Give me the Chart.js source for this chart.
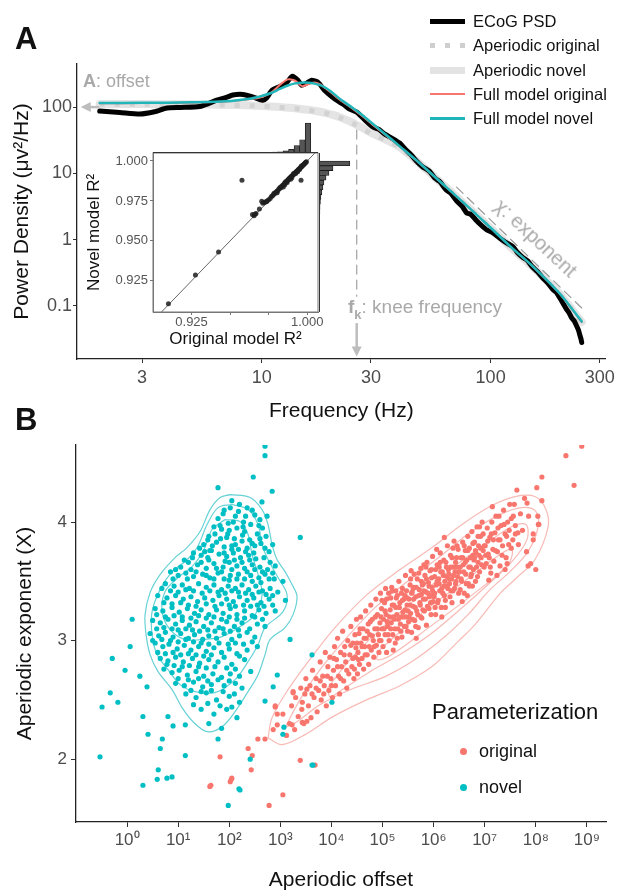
<!DOCTYPE html>
<html>
<head>
<meta charset="utf-8">
<script src="https://cdn.jsdelivr.net/npm/chart.js@4.4.1/dist/chart.umd.min.js"></script>
<style>
  body { margin: 0; background: #fff; }
  #fig { position: relative; width: 619px; height: 891px; overflow: hidden; font-family: 'Liberation Sans', Arial, sans-serif; }
  #fig canvas { position: absolute; }
  .txt { position: absolute; line-height: 1; white-space: nowrap; color: #111; }
  .gray { color: #a9a9a9; }
  .sw { position: absolute; left: 430px; width: 35px; }
  .dot { position: absolute; width: 7px; height: 7px; border-radius: 50%; }
</style>
</head>
<body>
<div id="fig">
  <canvas id="chartA" width="619" height="430" style="left:0;top:0"></canvas>
  <canvas id="inset" width="280" height="240" style="left:84px;top:120px"></canvas>
  <canvas id="histTop" width="165" height="35" style="left:153px;top:118px"></canvas>
  <canvas id="histRight" width="38" height="159" style="left:319px;top:153px"></canvas>
  <canvas id="chartB" width="619" height="470" style="left:0;top:430px"></canvas>

  <div class="txt" style="left:15px;top:23px;font-size:31px;font-weight:bold">A</div>
  <div class="txt" style="left:15px;top:404px;font-size:31px;font-weight:bold">B</div>

  <div class="txt gray" style="left:83px;top:72px;font-size:18px"><b>A</b>: offset</div>
  <div class="txt gray" style="left:348px;top:297px;font-size:19px"><b>f<span style="font-size:13px;position:relative;top:6px">k</span></b>: knee frequency</div>
  <div class="txt gray" style="left:536px;top:238px;font-size:20px;transform:translate(-50%,-50%) rotate(43deg)">χ: exponent</div>

  <!-- legend, panel A -->
  <div class="sw" style="top:18.5px;height:5px;background:#000"></div>
  <div class="sw" style="top:42.5px;height:5px;background:repeating-linear-gradient(to right,#cfcfcf 0 5px,transparent 5px 15px)"></div>
  <div class="sw" style="top:66.5px;height:7px;background:#e3e3e3"></div>
  <div class="sw" style="top:93px;height:2px;background:#F8766D"></div>
  <div class="sw" style="top:117px;height:2.5px;background:#1fb5b9"></div>
  <div class="txt" style="left:473px;top:13px;font-size:16.5px">ECoG PSD</div>
  <div class="txt" style="left:473px;top:37px;font-size:16.5px">Aperiodic original</div>
  <div class="txt" style="left:473px;top:62px;font-size:16.5px">Aperiodic novel</div>
  <div class="txt" style="left:473px;top:86px;font-size:16.5px">Full model original</div>
  <div class="txt" style="left:473px;top:110px;font-size:16.5px">Full model novel</div>

  <!-- legend, panel B -->
  <div class="txt" style="left:432px;top:701px;font-size:22px">Parameterization</div>
  <div class="dot" style="left:459.5px;top:748px;background:#F8766D"></div>
  <div class="txt" style="left:479px;top:742px;font-size:18px">original</div>
  <div class="dot" style="left:459.5px;top:783.5px;background:#00BFC4"></div>
  <div class="txt" style="left:479px;top:778px;font-size:18px">novel</div>
</div>

<script>
// ---- panel A: spectrum ----
const freqTicks = [3, 10, 30, 100, 300];
const powerTicks = [0.1, 1, 10, 100];

const psdFreq = [1.96, 2.4, 2.93, 3.4, 3.85, 4.4, 5.35, 6.36, 7.0, 7.47, 8.27, 9.13, 10.1, 10.5, 11.1, 12.0, 12.9, 13.6, 14.4, 14.9,
  15.7, 16.5, 17.6, 18.8, 20.4, 21.9, 23, 24.2, 26, 28.2, 30.6, 32.5, 34.5, 37, 40, 42.5, 45, 47.5, 50.5, 54,
  57, 60, 64, 67, 71, 75, 78.5, 82, 86, 91, 96, 102, 109, 117, 125, 131, 138, 145, 152, 160,
  168, 177, 187, 193, 200, 207, 215, 220, 226, 232, 238, 242, 245, 248, 250];
const psdPower = [87, 83, 78.5, 85, 97, 99, 102, 127, 140, 152, 155, 143, 127, 137, 180, 205, 238, 293, 255, 214,
  230, 255, 238, 180, 141, 119, 107, 93, 84, 64, 50, 46, 39, 34, 28.7, 23, 18.9, 15.2, 12.5, 10.8,
  8.5, 7.5, 5.6, 5.0, 3.85, 3.2, 2.54, 2.4, 2.0, 1.65, 1.41, 1.27, 1.07, 0.9, 0.785, 0.64, 0.54, 0.48, 0.39, 0.33,
  0.27, 0.225, 0.177, 0.162, 0.134, 0.11, 0.088, 0.079, 0.066, 0.059, 0.049, 0.043, 0.037, 0.032, 0.028];

const modelFreq = [1.96, 3, 5, 7, 9, 10, 11, 12, 13, 14, 15, 16, 17, 18, 19, 20, 22, 25, 28, 30, 35, 40, 50, 64, 80, 100, 125, 150, 200, 250];
const novelFull = [115, 116, 118, 122, 135, 147, 163, 188, 212, 228, 234, 233, 226, 214, 196, 174, 132, 97, 72, 59, 38, 25.8, 13.4, 6.2, 3.1, 1.51, 0.73, 0.42, 0.155, 0.058];
const originalFull = [114, 115, 117, 121, 132, 142, 165, 215, 262, 250, 207, 222, 236, 220, 192, 168, 128, 94, 70, 57, 37, 25.5, 13.3, 6.15, 3.08, 1.5, 0.725, 0.418, 0.154, 0.057];
const aperiodicNovel = [111, 111, 110, 108, 106, 104, 102, 100, 98, 96, 93, 91, 88, 85, 82, 78, 70, 58, 47, 41, 32, 25, 13.2, 6.1, 3.05, 1.49, 0.72, 0.41, 0.152, 0.057];
const aperiodicOriginal = [110, 110, 109, 107, 105, 103, 101, 99, 97, 95, 92, 90, 87, 84, 81, 77, 69, 57, 46, 40, 31.5, 24.7, 13.1, 6.05, 3.03, 1.48, 0.715, 0.408, 0.151, 0.0565];

const exponentGuideFreq = [71, 250];
const exponentGuidePower = [6.2, 0.093];
const kneeFreq = 26;
const kneeGuidePower = [45, 0.14];
const kneeArrowPower = [0.055, 0.0172];
const offsetArrowFreq = [1.95, 1.62];
const offsetPower = 100;

// ---- inset: R^2 comparison ----
const r2Ticks = [0.925, 0.95, 0.975, 1.0];
const r2XLabels = ['0.925', '', '', '1.000'];
const r2Points = [[0.910, 0.9106], [0.9275, 0.9287], [0.9425, 0.9431], [0.9577, 0.988], [0.996, 0.988],
  [0.9645, 0.9665], [0.9655, 0.9658], [0.9668, 0.9672], [0.9662, 0.9667], [0.969, 0.970], [0.9705, 0.9748],
  [0.9712, 0.9735], [0.972, 0.974], [0.9728, 0.9744], [0.9735, 0.9745],
  [0.974, 0.975], [0.975, 0.9758], [0.976, 0.9765], [0.9768, 0.9778], [0.9775, 0.9782], [0.9782, 0.979],
  [0.979, 0.9796], [0.9797, 0.9805], [0.9803, 0.9811], [0.981, 0.9815], [0.9816, 0.9824], [0.9822, 0.983],
  [0.9829, 0.9833], [0.9835, 0.9842], [0.9841, 0.9848], [0.9847, 0.9852], [0.9852, 0.986], [0.9858, 0.9864],
  [0.9863, 0.9869], [0.9868, 0.9875], [0.9873, 0.9879], [0.9878, 0.9883], [0.9883, 0.9889], [0.9887, 0.9893],
  [0.9891, 0.9897], [0.9895, 0.9901], [0.9899, 0.9904], [0.9903, 0.9908], [0.9907, 0.9912], [0.9911, 0.9916],
  [0.9915, 0.9919], [0.9919, 0.9923], [0.9923, 0.9927], [0.9927, 0.9931], [0.9931, 0.9934], [0.9935, 0.9938],
  [0.9939, 0.9942], [0.9943, 0.9946], [0.9947, 0.9949], [0.9951, 0.9953], [0.9955, 0.9957], [0.9959, 0.9961],
  [0.9963, 0.9964], [0.9967, 0.9968], [0.9971, 0.9972], [0.9975, 0.9976], [0.9979, 0.998], [0.9983, 0.9984],
  [0.9987, 0.9988], [0.9991, 0.9992], [0.9995, 0.9996], [0.9845, 0.9838], [0.987, 0.9865], [0.99, 0.9895],
  [0.9925, 0.9921], [0.995, 0.9946], [0.988, 0.9887], [0.986, 0.987], [0.9785, 0.9798], [0.9805, 0.9802],
  [0.9825, 0.9836], [0.9855, 0.9851], [0.9893, 0.9886], [0.9912, 0.9921], [0.9938, 0.9933], [0.9962, 0.9968]];

const topHistCenters = [1.0005, 0.9969, 0.9933, 0.9897, 0.9861, 0.9825, 0.9789, 0.9753, 0.9717, 0.9681, 0.9645, 0.9609,
  0.9573, 0.9537, 0.9501, 0.9465, 0.9429, 0.9393, 0.9357, 0.9321, 0.9285, 0.9249, 0.9213, 0.9177, 0.9141, 0.9105];
const topHistCounts = [282, 125, 70, 35, 20, 12, 8, 6, 5, 4, 3, 2, 2, 1, 1, 1, 1, 1, 0, 1, 1, 0, 0, 0, 0, 1];
const rightHistCenters = [0.9985, 0.9955, 0.9925, 0.9895, 0.9865, 0.9835, 0.9805, 0.9775, 0.9745, 0.9715, 0.9685, 0.9655,
  0.9625, 0.9595, 0.9565, 0.9535, 0.9505, 0.9475, 0.9445, 0.9415, 0.9385, 0.9355, 0.9325, 0.9295, 0.9265, 0.9235];
const rightHistCounts = [300, 136, 97, 68, 48, 38, 28, 19, 14, 10, 9, 7, 5, 3, 2, 2, 1, 1, 1, 0, 1, 0, 1, 0, 0, 1];

// ---- panel B: [log10 offset, exponent] ----
const offsetTickValues = [1, 10, 100, 1e3, 1e4, 1e5, 1e6, 1e7, 1e8, 1e9];
const offsetTickLabels = ['10⁰', '10¹', '10²', '10³', '10⁴', '10⁵', '10⁶', '10⁷', '10⁸', '10⁹'];
const exponentTicks = [2, 3, 4];

const novelPoints = [
  [2.05,4.18],[2.2,4.15],[2.35,4.12],[1.9,4.1],[2.5,4.06],[2.12,4.05],[1.78,4.03],[2.6,4.02],[2.28,4.0],[1.98,3.99],[2.42,3.98],[2.65,3.95],
  [1.7,3.96],[1.85,3.94],[2.0,3.93],[2.15,3.95],[2.3,3.92],[2.55,3.9],[2.72,3.88],[1.6,3.88],[1.95,3.87],[2.1,3.86],[2.4,3.85],[2.25,3.84],
  [1.75,3.83],[2.62,3.82],[1.5,3.81],[2.05,3.8],[2.85,3.81],[1.9,3.79],[2.35,3.78],[2.5,3.8],[2.18,3.77],[1.65,3.76],
  [1.3,3.74],[1.45,3.72],[1.58,3.7],[1.8,3.73],[1.95,3.71],[2.08,3.74],[2.22,3.7],[2.38,3.72],[2.52,3.69],[2.68,3.7],[2.8,3.66],[1.2,3.66],
  [1.38,3.64],[1.7,3.65],[1.88,3.62],[2.0,3.66],[2.15,3.63],[2.3,3.61],[2.45,3.64],[2.6,3.62],[2.9,3.63],[1.05,3.62],[1.55,3.61],[2.75,3.6],
  [1.25,3.6],[2.05,3.6],[2.4,3.68],[1.62,3.76],
  [0.85,3.58],[1.0,3.55],[1.15,3.57],[1.3,3.54],[1.48,3.56],[1.62,3.53],[1.78,3.57],[1.9,3.52],[2.02,3.55],[2.18,3.56],[2.3,3.52],[2.42,3.55],
  [2.58,3.53],[2.7,3.56],[2.88,3.52],[3.05,3.5],[0.75,3.48],[0.92,3.46],[1.08,3.47],[1.22,3.44],[1.4,3.48],[1.55,3.45],[1.7,3.47],[1.85,3.43],
  [1.98,3.46],[2.12,3.44],[2.25,3.47],[2.38,3.43],[2.52,3.46],[2.65,3.42],[2.8,3.44],[2.95,3.41],
  [0.6,3.38],[0.78,3.36],[0.95,3.38],[1.1,3.35],[1.25,3.37],[1.38,3.33],[1.52,3.36],[1.68,3.34],[1.8,3.38],[1.95,3.35],[2.08,3.33],[2.2,3.37],
  [2.35,3.34],[2.48,3.36],[2.62,3.32],[2.78,3.35],[3.1,3.34],[0.55,3.27],[0.7,3.25],[0.88,3.28],[1.02,3.24],[1.18,3.27],[1.32,3.23],[1.45,3.26],
  [1.6,3.22],[1.75,3.26],[1.88,3.23],[2.02,3.27],[2.15,3.22],[2.3,3.25],[2.45,3.21],[2.58,3.26],[2.72,3.23],[2.9,3.25],
  [0.5,3.17],[0.65,3.15],[0.8,3.18],[0.95,3.14],[1.08,3.17],[1.22,3.13],[1.35,3.16],[1.5,3.12],[1.65,3.15],[1.8,3.11],[1.95,3.16],[2.1,3.12],
  [2.25,3.15],[2.4,3.1],[2.55,3.14],[2.7,3.12],[0.45,3.06],[0.62,3.04],[0.75,3.07],[0.9,3.03],[1.05,3.06],[1.2,3.02],[1.32,3.05],[1.48,3.01],
  [1.6,3.04],[1.75,3.02],[1.9,3.06],[2.05,3.01],[2.2,3.04],[2.5,3.03],
  [0.55,2.98],[0.7,2.95],[0.82,2.97],[0.98,2.93],[1.12,2.96],[1.25,2.92],[1.4,2.95],[1.55,2.91],[1.7,2.94],[1.85,2.9],[2.0,2.93],[2.15,2.89],
  [2.35,2.92],[2.55,2.95],[0.65,2.85],[0.8,2.83],[0.95,2.86],[1.1,2.82],[1.28,2.85],[1.42,2.81],[1.6,2.84],[1.78,2.82],[2.05,2.8],[2.3,2.84],
  [0.72,2.76],[0.88,2.73],[1.02,2.75],[1.18,2.71],[1.35,2.74],[1.5,2.7],[1.68,2.72],[1.85,2.69],[2.02,2.72],[2.2,2.7],[2.42,2.74],[0.95,2.64],
  [1.12,2.62],[1.3,2.65],[1.48,2.61],[1.65,2.63],[1.9,2.62],[2.25,2.6],
  [1.15,2.55],[1.35,2.52],[1.55,2.56],[1.75,2.5],[2.0,2.53],[2.2,2.48],[1.45,2.42],[1.7,2.38],[1.95,2.42],[2.15,2.35],[1.6,2.3],[1.85,2.26],
  // second pass over the dense core
  [1.88,4.07],[2.02,4.12],[2.18,4.09],[2.32,4.05],[2.45,4.1],[2.58,3.97],[1.82,3.97],[2.27,3.96],[2.08,4.0],
  [1.58,3.85],[1.72,3.9],[1.83,3.86],[1.97,3.9],[2.12,3.81],[2.26,3.89],[2.45,3.82],[2.6,3.86],[2.7,3.78],[1.52,3.75],[1.67,3.8],[1.9,3.74],
  [2.05,3.77],[2.32,3.75],[2.48,3.74],[2.78,3.75],[1.42,3.78],
  [1.12,3.68],[1.28,3.7],[1.45,3.66],[1.6,3.68],[1.75,3.61],[1.92,3.67],[2.1,3.68],[2.25,3.66],[2.35,3.58],[2.5,3.6],[2.65,3.58],[2.85,3.57],
  [0.95,3.6],[1.18,3.52],[1.35,3.58],[1.55,3.55],[1.7,3.52],[1.85,3.58],[2.0,3.51],[2.15,3.52],[2.45,3.5],[2.62,3.49],[2.78,3.52],[0.9,3.52],
  [0.68,3.44],[0.85,3.42],[1.0,3.41],[1.15,3.43],[1.3,3.42],[1.47,3.4],[1.62,3.42],[1.78,3.41],[1.92,3.4],[2.05,3.42],[2.18,3.41],[2.32,3.4],
  [2.45,3.39],[2.58,3.41],[2.72,3.39],[2.85,3.38],[0.72,3.32],[0.88,3.31],[1.05,3.32],[1.2,3.3],[1.35,3.29],[1.55,3.31],[1.72,3.29],[1.85,3.31],
  [2.0,3.3],[2.12,3.29],[2.28,3.3],[2.42,3.29],[2.55,3.3],[2.68,3.29],[2.85,3.3],
  [0.58,3.22],[0.75,3.2],[0.92,3.21],[1.08,3.2],[1.25,3.19],[1.4,3.21],[1.55,3.19],[1.7,3.2],[1.85,3.18],[2.0,3.2],[2.15,3.18],[2.3,3.19],
  [2.5,3.2],[2.65,3.18],[0.58,3.1],[0.72,3.11],[0.88,3.1],[1.0,3.09],[1.15,3.1],[1.28,3.09],[1.42,3.08],[1.58,3.09],[1.72,3.08],[1.88,3.1],
  [2.02,3.08],[2.18,3.09],[2.35,3.07],
  [0.5,3.0],[0.68,3.01],[0.85,3.0],[1.0,2.99],[1.15,3.01],[1.3,2.99],[1.45,2.98],[1.6,2.97],[1.8,2.98],[1.98,2.97],[2.12,2.98],[2.28,2.97],
  [2.45,2.99],[0.6,2.9],[0.75,2.89],[0.9,2.9],[1.05,2.88],[1.2,2.89],[1.35,2.88],[1.5,2.87],[1.65,2.88],[1.9,2.86],[2.2,2.87],
  [0.78,2.8],[0.92,2.79],[1.08,2.78],[1.22,2.79],[1.4,2.78],[1.55,2.77],[1.72,2.78],[1.95,2.77],[2.12,2.76],[1.0,2.68],[1.2,2.67],[1.4,2.68],
  [1.58,2.66],[1.78,2.67],[2.0,2.66],[2.12,2.64],
  [1.25,2.58],[1.45,2.57],[1.65,2.58],[1.88,2.57],[2.1,2.55],[1.3,2.46],[1.58,2.47],[1.82,2.45],[2.05,2.44],
  // scattered
  [-0.53,2.02],[-0.49,2.44],[-0.33,2.56],[-0.29,2.85],[-0.04,2.75],[0.25,2.7],[0.31,2.36],[0.31,1.78],[0.39,2.61],[0.59,1.83],[0.61,1.91],
  [0.65,2.09],[0.69,2.17],[0.78,1.84],[0.8,2.36],[0.88,1.85],[0.9,2.28],[1.14,2.03],[1.14,2.29],[1.78,2.17],[1.98,1.61],[2.19,1.75],
  [2.41,2.0],[2.7,2.49],[3.19,3.01],[3.62,1.95],[3.05,2.21],[3.07,2.27],[3.62,2.88],[2.86,2.61],[2.94,2.71],[4.01,2.48],[2.7,4.64],
  [2.7,4.56],[2.47,4.38],[1.78,4.29],[2.84,4.26],[2.64,4.17],[3.39,3.87],[0.1,3.18],[2.74,4.05],[0.41,2.21],[0.06,2.95],[-0.18,2.48],
  [2.21,1.74],[3.64,1.95]];

const originalPoints = [
  [3.05,2.38],[3.12,2.2],[3.18,2.3],[3.22,2.45],[3.28,2.25],[3.3,2.52],[3.35,2.36],[3.4,2.6],[3.42,2.42],[3.46,2.3],[3.48,2.55],[3.5,2.68],
  [3.55,2.45],[3.58,2.62],[3.6,2.35],[3.63,2.75],[3.66,2.52],[3.7,2.68],[3.72,2.4],[3.75,2.58],[3.78,2.82],[3.8,2.5],[3.83,2.7],[3.86,2.62],
  [3.88,2.9],[3.9,2.45],[3.93,2.78],[3.95,2.58],[3.97,2.86],[3.99,2.68],
  [4.02,2.52],[4.04,2.75],[4.06,2.95],[4.08,2.62],[4.1,2.84],[4.12,3.02],[4.14,2.7],[4.16,2.55],[4.18,2.9],[4.2,2.78],[4.22,3.08],[4.24,2.66],
  [4.26,2.95],[4.28,2.82],[4.3,2.6],[4.32,3.0],[4.34,2.72],[4.36,2.88],[4.38,3.12],[4.4,2.78],[4.42,2.98],[4.44,2.68],[4.46,3.05],[4.47,2.86],
  [4.48,2.94],[4.49,3.18],
  [4.51,2.72],[4.52,2.9],[4.54,3.06],[4.55,2.8],[4.57,3.2],[4.58,2.98],[4.6,2.85],[4.62,3.1],[4.63,2.76],[4.65,2.95],[4.67,3.25],[4.68,3.02],
  [4.7,2.88],[4.72,3.14],[4.73,2.8],[4.75,3.05],[4.77,3.3],[4.78,2.92],[4.8,3.18],[4.82,3.0],[4.83,2.86],[4.85,3.1],[4.87,3.35],[4.88,2.96],
  [4.9,3.22],[4.92,3.05],[4.93,2.9],[4.95,3.15],[4.96,3.4],[4.97,3.0],[4.98,3.27],[4.99,3.1],
  [5.01,2.95],[5.02,3.18],[5.04,3.32],[5.05,3.05],[5.07,3.22],[5.08,2.9],[5.1,3.12],[5.12,3.4],[5.13,3.0],[5.15,3.26],[5.17,3.15],[5.18,3.45],
  [5.2,3.05],[5.22,3.3],[5.23,3.18],[5.25,2.98],[5.27,3.36],[5.28,3.22],[5.3,3.1],[5.32,3.5],[5.33,3.28],[5.35,3.14],[5.37,3.4],[5.38,3.03],
  [5.4,3.24],[5.42,3.35],[5.43,3.12],[5.45,3.55],[5.46,3.2],[5.47,3.42],[5.48,3.3],[5.49,3.08],[5.44,3.38],[5.36,3.2],[5.26,3.42],[5.16,3.36],
  [5.06,3.44],[5.21,2.92],
  [5.51,3.16],[5.52,3.35],[5.54,3.47],[5.55,3.23],[5.57,3.07],[5.58,3.41],[5.6,3.29],[5.62,3.56],[5.63,3.17],[5.65,3.37],[5.67,3.25],[5.68,3.52],
  [5.7,3.11],[5.72,3.43],[5.73,3.32],[5.75,3.61],[5.77,3.19],[5.78,3.47],[5.8,3.35],[5.82,3.25],[5.83,3.55],[5.85,3.41],[5.87,3.66],[5.88,3.29],
  [5.9,3.49],[5.92,3.37],[5.93,3.59],[5.95,3.22],[5.97,3.45],[5.98,3.71],[5.99,3.33],[5.56,3.59],[5.66,3.02],[5.76,3.39],[5.86,3.13],[5.96,3.53],
  [5.61,3.45],[5.71,3.57],[5.81,3.64],[5.91,3.27],
  [6.01,3.37],[6.02,3.54],[6.04,3.22],[6.05,3.47],[6.07,3.64],[6.08,3.32],[6.1,3.52],[6.12,3.42],[6.13,3.74],[6.15,3.28],[6.17,3.58],[6.18,3.4],
  [6.2,3.68],[6.22,3.5],[6.23,3.34],[6.25,3.62],[6.27,3.8],[6.28,3.44],[6.3,3.56],[6.32,3.37],[6.33,3.72],[6.35,3.52],[6.37,3.62],[6.38,3.42],
  [6.4,3.84],[6.42,3.58],[6.43,3.48],[6.45,3.7],[6.47,3.54],[6.48,3.77],[6.49,3.4],[6.06,3.77],[6.16,3.2],[6.26,3.54],[6.36,3.32],[6.46,3.62],
  [6.11,3.62],[6.21,3.87],[6.31,3.48],[6.41,3.44],
  [6.51,3.58],[6.52,3.43],[6.54,3.7],[6.55,3.5],[6.57,3.83],[6.58,3.64],[6.6,3.4],[6.62,3.76],[6.63,3.56],[6.65,3.68],[6.67,3.88],[6.68,3.48],
  [6.7,3.78],[6.72,3.62],[6.73,3.54],[6.75,3.92],[6.77,3.72],[6.78,3.6],[6.8,3.83],[6.82,3.5],[6.83,3.74],[6.85,3.96],[6.87,3.66],[6.88,3.8],
  [6.9,3.58],[6.92,3.88],[6.93,3.7],[6.95,4.0],[6.97,3.76],[6.99,3.62],[6.56,3.33],[6.66,3.38],[6.76,3.46],[6.86,3.54],
  [7.01,3.8],[7.03,3.65],[7.05,3.95],[7.07,3.73],[7.1,3.87],[7.12,3.57],[7.14,4.0],[7.16,3.77],[7.18,3.67],[7.2,3.91],[7.22,4.05],[7.25,3.75],
  [7.27,3.85],[7.3,3.63],[7.32,3.97],[7.35,3.8],[7.37,4.1],[7.4,3.9],[7.42,3.7],[7.45,4.0],[7.47,3.81],[7.49,4.15],[7.08,3.51],[7.24,3.55],
  [7.4,3.6],[7.15,4.13],
  [7.52,4.03],[7.55,3.85],[7.58,4.15],[7.6,3.97],[7.63,4.27],[7.66,3.81],[7.7,4.07],[7.74,3.93],[7.78,4.2],[7.82,3.75],[7.86,4.05],[7.9,3.65],
  [7.95,3.9],[8.0,3.6],[8.05,3.98],[7.85,3.63],[7.83,4.16],[8.04,4.05],[8.06,3.98],[7.95,3.85],[7.65,3.91],
  // second pass over the dense core
  [3.62,2.55],[3.7,2.6],[3.78,2.66],[3.85,2.55],[3.92,2.7],[4.0,2.62],[4.05,2.85],[4.12,2.78],[4.18,2.68],[4.25,2.88],[4.3,2.75],[4.38,2.96],
  [4.42,2.85],[4.45,2.76],
  [4.5,2.98],[4.53,2.84],[4.56,3.1],[4.6,2.95],[4.64,3.02],[4.66,2.88],[4.7,3.08],[4.74,2.95],[4.76,3.16],[4.8,3.04],[4.84,2.95],[4.86,3.2],
  [4.9,3.1],[4.94,3.0],[4.97,3.2],[4.99,3.34],
  [5.03,3.1],[5.05,3.25],[5.08,3.35],[5.11,3.05],[5.14,3.2],[5.16,3.1],[5.19,3.3],[5.21,3.2],[5.24,3.1],[5.26,3.28],[5.29,3.38],[5.31,3.18],
  [5.34,3.32],[5.36,3.08],[5.39,3.34],[5.41,3.2],[5.44,3.26],[5.46,3.12],[5.48,3.36],[5.5,3.25],[5.09,3.16],[5.19,3.42],[5.29,3.02],[5.39,3.44],
  [5.52,3.2],[5.54,3.3],[5.57,3.4],[5.59,3.18],[5.61,3.35],[5.64,3.28],[5.66,3.45],[5.69,3.22],[5.71,3.38],[5.74,3.3],[5.76,3.5],[5.79,3.26],
  [5.81,3.42],[5.84,3.35],[5.86,3.52],[5.89,3.4],[5.91,3.46],[5.94,3.32],[5.96,3.6],[5.98,3.42],[5.55,3.52],[5.65,3.12],[5.75,3.2],[5.85,3.62],
  [5.95,3.38],[5.6,3.44],[5.8,3.48],
  [6.02,3.4],[6.04,3.6],[6.07,3.5],[6.09,3.34],[6.11,3.48],[6.14,3.58],[6.16,3.44],[6.19,3.55],[6.21,3.38],[6.24,3.66],[6.26,3.46],[6.29,3.6],
  [6.31,3.52],[6.34,3.42],[6.36,3.7],[6.39,3.55],[6.41,3.62],[6.44,3.5],[6.46,3.8],[6.49,3.58],[6.03,3.28],[6.13,3.66],[6.23,3.28],[6.33,3.62],
  [6.43,3.66],[6.2,3.46],[6.38,3.78],
  [6.52,3.62],[6.54,3.52],[6.57,3.7],[6.59,3.58],[6.62,3.66],[6.64,3.48],[6.67,3.76],[6.69,3.62],[6.72,3.7],[6.74,3.56],[6.77,3.82],[6.79,3.68],
  [6.82,3.76],[6.84,3.62],[6.87,3.88],[6.89,3.72],[6.92,3.78],[6.94,3.64],[6.97,3.9],[6.99,3.8],[6.6,3.8],[6.7,3.46],[6.8,3.7],[6.9,3.96],
  [7.02,3.72],[7.06,3.84],[7.09,3.7],[7.13,3.9],[7.17,3.85],[7.21,3.76],[7.26,3.95],[7.3,3.85],[7.34,3.72],[7.38,3.98],[7.43,3.88],[7.48,3.93],
  [7.52,3.78],[7.56,4.05],[7.6,3.9],[7.11,3.62],[7.28,4.05],[7.44,3.65],
  // scattered
  [8.9,4.64],[8.59,4.56],[8.12,4.38],[8.02,4.29],[8.75,4.31],[8.12,4.18],
  [1.82,2.02],[1.64,1.78],[2.04,1.83],[2.05,1.84],[2.37,2.09],[2.45,2.03],[2.43,1.91],[2.78,1.61],[3.05,1.7],[3.39,1.99],
  [2.56,2.17],[2.7,2.17],[2.9,2.45],[2.94,2.29],[2.86,2.25],[3.25,2.57],[3.68,1.95],[2.94,2.38],[3.23,2.29],[3.43,2.31],
  [3.52,2.32],[3.25,2.56],[2.9,2.44],[3.43,2.48],[3.52,2.59],[1.62,1.77],[2.02,1.81]];

const novelContours = [
  [[2.016,4.232],[2.407,4.207],[2.642,4.105],[2.759,3.979],[2.838,3.81],[2.935,3.684],[3.092,3.582],[3.229,3.473],[3.327,3.371],
   [3.249,3.219],[3.092,3.11],[2.798,3.008],[2.701,2.882],[2.564,2.713],[2.368,2.57],[2.114,2.401],[1.859,2.274],[1.566,2.232],
   [1.292,2.316],[1.076,2.435],[0.881,2.586],[0.607,2.738],[0.45,2.882],[0.372,3.051],[0.352,3.219],[0.45,3.405],[0.646,3.557],
   [0.939,3.7],[1.174,3.785],[1.429,3.92],[1.624,4.105],[1.82,4.207],[2.016,4.232]],
  [[2.055,4.148],[2.368,4.106],[2.564,3.979],[2.642,3.81],[2.759,3.684],[2.955,3.532],[3.131,3.388],[3.053,3.245],[2.701,3.11],
   [2.564,2.966],[2.368,2.823],[2.114,2.671],[1.722,2.561],[1.331,2.57],[1.037,2.629],[0.802,2.755],[0.587,2.882],[0.489,3.051],
   [0.489,3.245],[0.646,3.43],[0.881,3.582],[1.135,3.667],[1.37,3.785],[1.566,3.979],[1.781,4.122],[2.055,4.148]],
  [[1.918,4.021],[2.211,4.004],[2.368,3.895],[2.446,3.726],[2.564,3.557],[2.642,3.388],[2.505,3.219],[2.211,3.118],[1.859,3.034],
   [1.429,3.008],[1.135,3.008],[0.841,3.093],[0.685,3.245],[0.744,3.414],[0.998,3.532],[1.272,3.624],[1.487,3.751],[1.663,3.937],
   [1.918,4.021]]];

const originalContours = [
  [[2.759,2.181],[2.838,2.35],[3.151,2.586],[3.62,2.865],[4.07,3.11],[4.697,3.388],[5.342,3.599],[5.969,3.785],[6.556,3.979],
   [7.104,4.131],[7.593,4.215],[7.984,4.215],[8.2,4.106],[8.239,3.954],[7.984,3.684],[7.632,3.532],[7.299,3.397],[6.81,3.135],
   [6.477,2.992],[5.969,2.781],[5.342,2.62],[4.697,2.502],[4.031,2.359],[3.483,2.207],[3.033,2.122],[2.759,2.181]],
  [[3.092,2.266],[3.385,2.502],[3.777,2.755],[4.266,3.008],[4.853,3.278],[5.538,3.515],[6.125,3.709],[6.712,3.911],[7.299,4.063],
   [7.73,4.122],[8.004,4.089],[8.043,3.954],[7.847,3.751],[7.495,3.582],[7.104,3.43],[6.673,3.219],[6.223,3.034],[5.636,2.84],
   [5.049,2.696],[4.364,2.586],[3.777,2.46],[3.327,2.316],[3.092,2.266]],
  [[3.933,2.603],[4.364,2.84],[4.951,3.093],[5.636,3.346],[6.321,3.599],[7.006,3.81],[7.534,3.962],[7.808,3.979],[7.828,3.852],
   [7.534,3.667],[7.065,3.473],[6.517,3.262],[5.93,3.051],[5.342,2.882],[4.755,2.738],[4.207,2.586],[3.973,2.527],[3.933,2.603]],
  [[4.951,2.924],[5.734,3.219],[6.517,3.473],[7.299,3.726],[7.534,3.768],[7.456,3.641],[6.712,3.371],[5.93,3.118],[5.147,2.873],
   [4.892,2.84],[4.951,2.924]]];

// ---- helpers ----
Chart.defaults.font.family = "'Liberation Sans', Arial, sans-serif";
Chart.defaults.color = '#4d4d4d';

const xy = (xs, ys) => xs.map((v, i) => ({ x: v, y: ys[i] }));
const fromPairs = (pairs) => pairs.map(p => ({ x: p[0], y: p[1] }));
const fromLogPairs = (pairs) => pairs.map(p => ({ x: Math.pow(10, p[0]), y: p[1] }));
const fixedTicks = (values) => (scale) => { scale.ticks = values.map(v => ({ value: v })); };

const baseOptions = {
  responsive: false,
  animation: false,
  devicePixelRatio: 1,
  plugins: { legend: { display: false }, tooltip: { enabled: false } },
  elements: { point: { radius: 0 } },
};
const axisGrid = (len) => ({ display: true, drawOnChartArea: false, drawTicks: true, tickLength: len, color: '#333', lineWidth: 1 });
const axisBorder = { display: true, color: '#222', width: 1.3 };

const line = (data, color, width, extra) => Object.assign({
  data: data, showLine: true, borderColor: color, borderWidth: width, pointRadius: 0,
  tension: 0.3, borderCapStyle: 'round', borderJoinStyle: 'round', fill: false,
}, extra || {});

// arrows for the offset and knee annotations
const paramMarks = {
  id: 'paramMarks',
  afterDatasetsDraw(chart) {
    const { ctx, scales: { x, y } } = chart;
    const arrow = (x0, y0, x1, y1) => {
      const a = Math.atan2(y1 - y0, x1 - x0), c = Math.cos(a), s = Math.sin(a);
      ctx.beginPath();
      ctx.moveTo(x0, y0);
      ctx.lineTo(x1 - 7 * c, y1 - 7 * s);
      ctx.stroke();
      ctx.beginPath();
      ctx.moveTo(x1, y1);
      ctx.lineTo(x1 - 10 * c + 5 * s, y1 - 10 * s - 5 * c);
      ctx.lineTo(x1 - 10 * c - 5 * s, y1 - 10 * s + 5 * c);
      ctx.closePath();
      ctx.fill();
    };
    ctx.save();
    ctx.strokeStyle = '#bdbdbd';
    ctx.fillStyle = '#bdbdbd';
    ctx.lineWidth = 2.5;
    const py = y.getPixelForValue(offsetPower);
    arrow(x.getPixelForValue(offsetArrowFreq[0]), py, x.getPixelForValue(offsetArrowFreq[1]), py);
    const kx = x.getPixelForValue(kneeFreq);
    arrow(kx, y.getPixelForValue(kneeArrowPower[0]), kx, y.getPixelForValue(kneeArrowPower[1]));
    ctx.restore();
  }
};

// ---- panel A ----
new Chart(document.getElementById('chartA'), {
  type: 'scatter',
  data: {
    datasets: [
      line(xy(modelFreq, novelFull), '#1fb5b9', 2.5),
      line(xy(modelFreq, originalFull), '#F8766D', 2),
      line(xy(psdFreq, psdPower), '#000', 5, { tension: 0.2 }),
      line(xy(exponentGuideFreq, exponentGuidePower), '#9a9a9a', 1.2, { borderDash: [9, 6], tension: 0 }),
      line(xy([kneeFreq, kneeFreq], kneeGuidePower), '#a8a8a8', 1.3, { borderDash: [9, 6], tension: 0 }),
      line(xy(modelFreq, aperiodicOriginal), '#d2d2d2', 5, { borderDash: [5, 10], borderCapStyle: 'butt' }),
      line(xy(modelFreq, aperiodicNovel), '#e4e4e4', 8),
    ]
  },
  options: Object.assign({}, baseOptions, {
    layout: { padding: { top: 64, right: 13, left: 0, bottom: 0 } },
    scales: {
      x: {
        type: 'logarithmic', min: 1.56, max: 318, bounds: 'data',
        afterFit: (s) => { s.height = 71; },
        afterBuildTicks: fixedTicks(freqTicks),
        ticks: { callback: (v) => String(v), font: { size: 18 }, color: '#4d4d4d', padding: 4, autoSkip: false, maxRotation: 0 },
        grid: axisGrid(4), border: axisBorder,
        title: { display: true, text: 'Frequency (Hz)', font: { size: 21 }, color: '#111', padding: { top: 0, bottom: 6.4 } },
      },
      y: {
        type: 'logarithmic', min: 0.0158, max: 447, bounds: 'data',
        afterFit: (s) => { s.width = 77; },
        afterBuildTicks: fixedTicks(powerTicks),
        ticks: { callback: (v) => String(v), font: { size: 18 }, color: '#4d4d4d', padding: 1, autoSkip: false },
        grid: axisGrid(4), border: axisBorder,
        title: { display: true, text: 'Power Density (μv²/Hz)', font: { size: 21 }, color: '#111', padding: { top: 9.4, bottom: 0 } },
      }
    }
  }),
  plugins: [paramMarks]
});

// ---- inset ----
const insetFrame = {
  id: 'insetFrame',
  beforeDraw(chart) {
    const { ctx, chartArea: a } = chart;
    ctx.save();
    ctx.fillStyle = '#fff';
    ctx.fillRect(a.left, a.top, a.right - a.left, a.bottom - a.top);
    ctx.restore();
  },
  afterDraw(chart) {
    const { ctx, chartArea: a } = chart;
    ctx.save();
    ctx.strokeStyle = '#777';
    ctx.lineWidth = 1;
    ctx.strokeRect(a.left, a.top, a.right - a.left, a.bottom - a.top);
    ctx.restore();
  }
};

new Chart(document.getElementById('inset'), {
  type: 'scatter',
  data: {
    datasets: [
      { data: fromPairs(r2Points), pointRadius: 2.5, backgroundColor: 'rgba(30,30,30,0.85)', borderWidth: 0 },
      line([{ x: 0.9, y: 0.9 }, { x: 1.007, y: 1.007 }], '#555', 0.9, { tension: 0 }),
    ]
  },
  options: Object.assign({}, baseOptions, {
    layout: { padding: { top: 33, right: 46, left: 0, bottom: 0 } },
    scales: {
      x: {
        type: 'linear', min: 0.9, max: 1.007, bounds: 'data',
        afterFit: (s) => { s.height = 48; },
        afterBuildTicks: fixedTicks(r2Ticks),
        ticks: { callback: (v, i) => r2XLabels[i], font: { size: 13 }, color: '#555', padding: 0, autoSkip: false, maxRotation: 0 },
        grid: { display: true, drawOnChartArea: false, tickLength: 3, color: '#777' },
        border: { display: true, color: '#777', width: 1 },
        title: { display: true, text: 'Original model R²', font: { size: 17 }, color: '#111', padding: { top: 0, bottom: 10 } },
      },
      y: {
        type: 'linear', min: 0.9055, max: 1.005, bounds: 'data',
        afterFit: (s) => { s.width = 69; },
        afterBuildTicks: fixedTicks(r2Ticks),
        ticks: { callback: (v) => v.toFixed(3), font: { size: 13 }, color: '#555', padding: 2, autoSkip: false },
        grid: { display: true, drawOnChartArea: false, tickLength: 3, color: '#777' },
        border: { display: true, color: '#777', width: 1 },
        title: { display: true, text: 'Novel model R²', font: { size: 17 }, color: '#111', padding: { top: 0, bottom: 0 } },
      }
    }
  }),
  plugins: [insetFrame]
});

// marginal histograms of the inset
const histBaseline = (side) => ({
  id: 'histBaseline',
  afterDraw(chart) {
    const { ctx, chartArea: a } = chart;
    ctx.save();
    ctx.strokeStyle = '#333';
    ctx.lineWidth = 1;
    ctx.beginPath();
    if (side === 'bottom') { ctx.moveTo(a.left, a.bottom - 0.5); ctx.lineTo(a.right, a.bottom - 0.5); }
    else { ctx.moveTo(a.left + 0.5, a.top); ctx.lineTo(a.left + 0.5, a.bottom); }
    ctx.stroke();
    ctx.restore();
  }
});
const histBars = { backgroundColor: '#555', borderColor: '#1a1a1a', borderWidth: 0.8, barPercentage: 1, categoryPercentage: 1 };

new Chart(document.getElementById('histTop'), {
  type: 'bar',
  data: { datasets: [Object.assign({ data: xy(topHistCenters, topHistCounts) }, histBars)] },
  options: Object.assign({}, baseOptions, {
    layout: { padding: 0 },
    scales: {
      x: { type: 'linear', min: 0.9, max: 1.007, offset: false, display: false, afterBuildTicks: fixedTicks([0.9, 1.007]) },
      y: { type: 'linear', min: 0, max: 330, display: false }
    }
  }),
  plugins: [histBaseline('bottom')]
});

new Chart(document.getElementById('histRight'), {
  type: 'bar',
  data: { datasets: [Object.assign({ data: rightHistCenters.map((c, i) => ({ x: rightHistCounts[i], y: c })) }, histBars)] },
  options: Object.assign({}, baseOptions, {
    indexAxis: 'y',
    layout: { padding: 0 },
    scales: {
      y: { type: 'linear', min: 0.9055, max: 1.005, offset: false, display: false, afterBuildTicks: fixedTicks([0.9055, 1.005]) },
      x: { type: 'linear', min: 0, max: 370, display: false }
    }
  }),
  plugins: [histBaseline('left')]
});

// ---- panel B ----
const contour = (pairs, color) => line(fromLogPairs(pairs), color, 1.2, { tension: 0.35 });
const pointSet = (pairs, color) => ({ data: fromLogPairs(pairs), pointRadius: 2.6, backgroundColor: color, borderWidth: 0 });

new Chart(document.getElementById('chartB'), {
  type: 'scatter',
  data: {
    datasets: [
      pointSet(novelPoints, '#00BFC4'),
      pointSet(originalPoints, '#F8766D'),
      ...novelContours.map(c => contour(c, 'rgba(0,180,186,0.6)')),
      ...originalContours.map(c => contour(c, 'rgba(240,130,120,0.55)')),
    ]
  },
  options: Object.assign({}, baseOptions, {
    layout: { padding: { top: 15, right: 13, left: 0, bottom: 0 } },
    scales: {
      x: {
        type: 'logarithmic', min: 0.1, max: 2.37e9, bounds: 'data',
        afterFit: (s) => { s.height = 78; },
        afterBuildTicks: fixedTicks(offsetTickValues),
        ticks: { callback: (v, i) => offsetTickLabels[i], font: { size: 17 }, color: '#4d4d4d', padding: 3, autoSkip: false, maxRotation: 0 },
        grid: axisGrid(5), border: axisBorder,
        title: { display: true, text: 'Aperiodic offset', font: { size: 21 }, color: '#111', padding: { top: 0, bottom: 7.4 } },
      },
      y: {
        type: 'linear', min: 1.47, max: 4.65, bounds: 'data',
        afterFit: (s) => { s.width = 76; },
        afterBuildTicks: fixedTicks(exponentTicks),
        ticks: { callback: (v) => String(v), font: { size: 17 }, color: '#4d4d4d', padding: 4, autoSkip: false },
        grid: axisGrid(5), border: axisBorder,
        title: { display: true, text: 'Aperiodic exponent (X)', font: { size: 21 }, color: '#111', padding: { top: 12.4, bottom: 0 } },
      }
    }
  })
});
</script>
</body>
</html>
